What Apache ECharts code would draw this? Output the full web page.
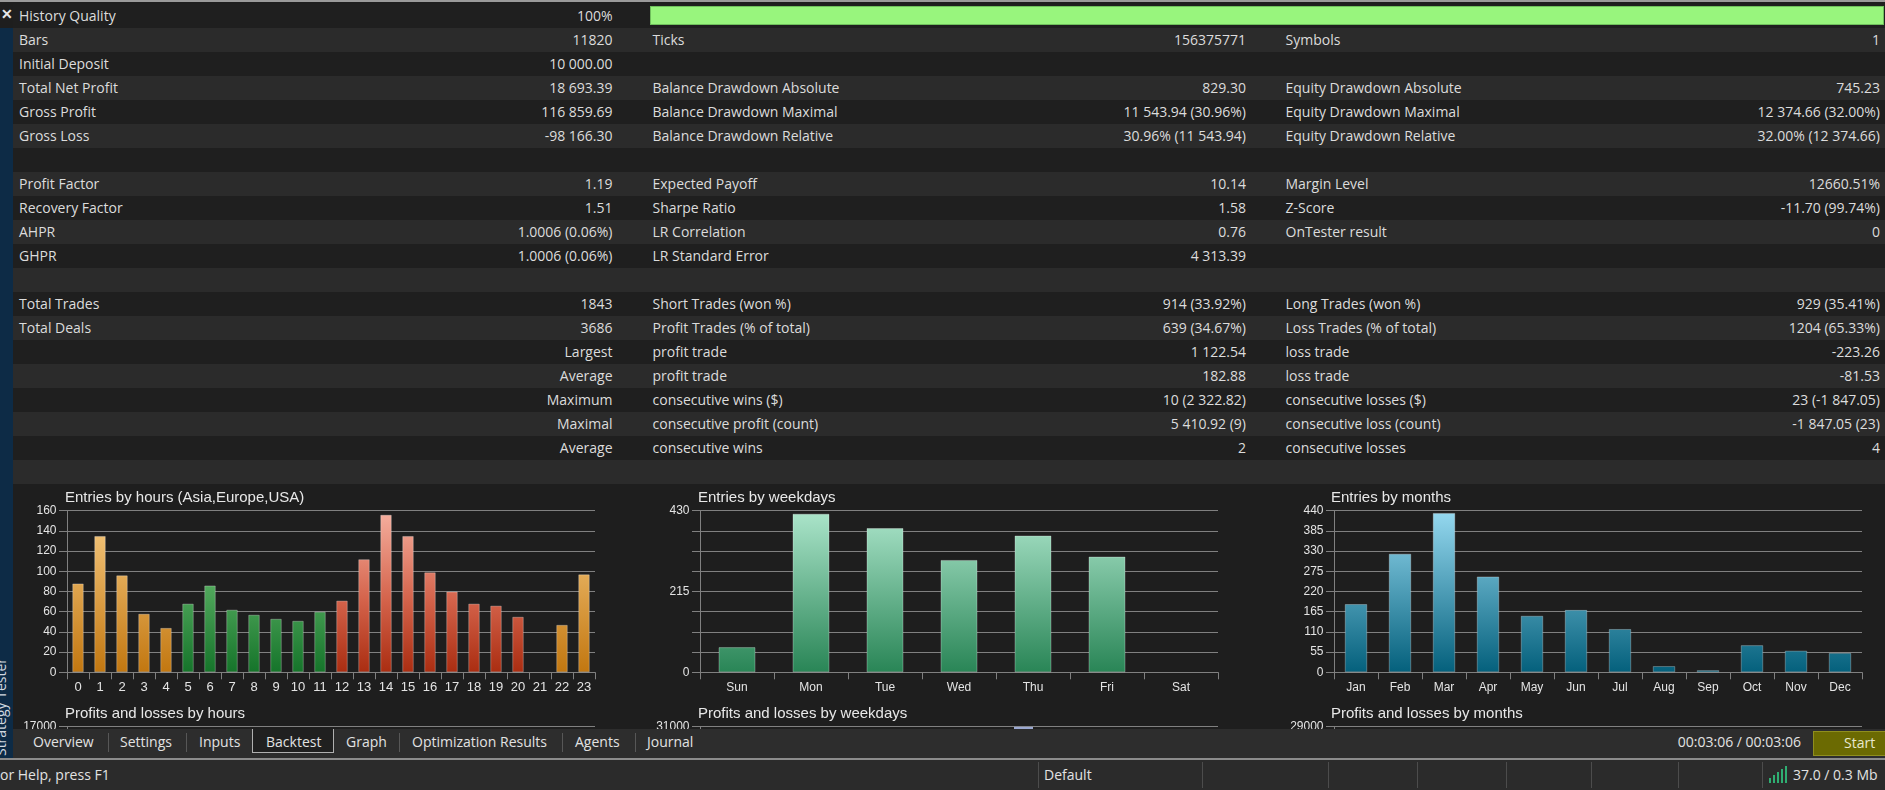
<!DOCTYPE html>
<html>
<head>
<meta charset="utf-8">
<script src="https://cdn.jsdelivr.net/npm/echarts@6/dist/echarts.min.js"></script>
<style>
  html, body { margin:0; padding:0; background:#1e1e1e; width:1885px; height:790px; overflow:hidden; }
  body { position:relative; font-family:"Open Sans", "Noto Sans", sans-serif; font-size:14px; color:#dcdcdc; }
  .abs { position:absolute; white-space:nowrap; }
  .row { position:absolute; left:0; width:1885px; height:24px; line-height:24px; }
  .row span { position:absolute; top:0; white-space:nowrap; }
  .sep { position:absolute; width:1px; background:#575757; }
  #chart { position:absolute; left:0; top:484px; width:1885px; height:246px; }
</style>
</head>
<body>
<div id="rows"></div>
<div id="chart"></div>
<div id="chrome"></div>
<script>
// ---------- table text ----------
const statsRows = [
  ["History Quality", "100%", "", "", "", ""],
  ["Bars", "11820", "Ticks", "156375771", "Symbols", "1"],
  ["Initial Deposit", "10 000.00", "", "", "", ""],
  ["Total Net Profit", "18 693.39", "Balance Drawdown Absolute", "829.30", "Equity Drawdown Absolute", "745.23"],
  ["Gross Profit", "116 859.69", "Balance Drawdown Maximal", "11 543.94 (30.96%)", "Equity Drawdown Maximal", "12 374.66 (32.00%)"],
  ["Gross Loss", "-98 166.30", "Balance Drawdown Relative", "30.96% (11 543.94)", "Equity Drawdown Relative", "32.00% (12 374.66)"],
  ["", "", "", "", "", ""],
  ["Profit Factor", "1.19", "Expected Payoff", "10.14", "Margin Level", "12660.51%"],
  ["Recovery Factor", "1.51", "Sharpe Ratio", "1.58", "Z-Score", "-11.70 (99.74%)"],
  ["AHPR", "1.0006 (0.06%)", "LR Correlation", "0.76", "OnTester result", "0"],
  ["GHPR", "1.0006 (0.06%)", "LR Standard Error", "4 313.39", "", ""],
  ["", "", "", "", "", ""],
  ["Total Trades", "1843", "Short Trades (won %)", "914 (33.92%)", "Long Trades (won %)", "929 (35.41%)"],
  ["Total Deals", "3686", "Profit Trades (% of total)", "639 (34.67%)", "Loss Trades (% of total)", "1204 (65.33%)"],
  ["", "Largest", "profit trade", "1 122.54", "loss trade", "-223.26"],
  ["", "Average", "profit trade", "182.88", "loss trade", "-81.53"],
  ["", "Maximum", "consecutive wins ($)", "10 (2 322.82)", "consecutive losses ($)", "23 (-1 847.05)"],
  ["", "Maximal", "consecutive profit (count)", "5 410.92 (9)", "consecutive loss (count)", "-1 847.05 (23)"],
  ["", "Average", "consecutive wins", "2", "consecutive losses", "4"],
  ["", "", "", "", "", ""]
];

// ---------- chart data ----------
const hours = ["0","1","2","3","4","5","6","7","8","9","10","11","12","13","14","15","16","17","18","19","20","21","22","23"];
const hourEntries = [88,135,96,58,44,68,86,62,57,53,51,60,71,112,156,135,99,80,68,66,55,0,47,97];
const hourSession = ["asia","asia","asia","asia","asia","europe","europe","europe","europe","europe","europe","europe",
                     "usa","usa","usa","usa","usa","usa","usa","usa","usa","usa","asia","asia"];
const weekdays = ["Sun","Mon","Tue","Wed","Thu","Fri","Sat"];
const weekdayEntries = [67,422,384,299,364,308,0];
const months = ["Jan","Feb","Mar","Apr","May","Jun","Jul","Aug","Sep","Oct","Nov","Dec"];
const monthEntries = [186,323,434,261,154,170,118,17,6,74,59,53];
// second row (mostly hidden below the tab bar): only the Thu profit bar top is visible
const weekdayProfitVisible = [null,null,null,null,30900,null,null];
const weekdayLossVisible = [null,null,null,null,null,null,null];
const hourProfitVisible = hours.map(() => null);
const monthProfitVisible = months.map(() => null);

// ---------- build table ----------
(function(){
  const rows = document.getElementById('rows');
  statsRows.forEach((r, i) => {
    const d = document.createElement('div');
    d.className = 'row';
    d.style.top = (4 + 24 * i) + 'px';
    d.style.background = (i % 2 === 0) ? '#1f1f1f' : '#2b2b2b';
    const parts = [
      [r[0], 'left', 19], [r[1], 'right', 1885 - 612.5],
      [r[2], 'left', 652.5], [r[3], 'right', 1885 - 1246],
      [r[4], 'left', 1285.5], [r[5], 'right', 1885 - 1880]
    ];
    parts.forEach(p => {
      if (!p[0]) return;
      const s = document.createElement('span');
      s.textContent = p[0];
      s.style[p[1]] = p[2] + 'px';
      d.appendChild(s);
    });
    if (i === 0) {
      const g = document.createElement('div');
      g.style.cssText = 'position:absolute;left:650px;top:2px;width:1232px;height:17px;background:#98f57d;border:1px solid #6fbf5c;';
      d.appendChild(g);
    }
    rows.appendChild(d);
  });
})();

// ---------- window chrome ----------
(function(){
  const c = document.getElementById('chrome');
  let h = '';
  h += '<div class="abs" style="left:0;top:0;width:1885px;height:2px;background:#9a9a9a;"></div>';
  // left strip
  h += '<div class="abs" style="left:0;top:2px;width:13px;height:26px;background:#1e1e1e;z-index:5;"></div>';
  h += '<div class="abs" style="left:1px;top:5px;font-size:14px;font-weight:bold;color:#e8e8e8;z-index:6;line-height:18px;">&#x2715;</div>';
  h += '<div class="abs" style="left:0;top:28px;width:13px;height:730px;background:#0d2b46;z-index:5;overflow:hidden;">' +
       '<div class="abs" style="left:-49px;top:672px;width:100px;text-align:center;transform:rotate(-90deg);font-size:14px;color:#d0d8e0;line-height:14px;">Strategy Tester</div></div>';
  // tab bar
  h += '<div class="abs" style="left:13px;top:729px;width:1872px;height:30px;background:#2d2d2d;z-index:4;"></div>';
  h += '<div class="abs" style="left:252px;top:729px;width:80px;height:23px;background:#202020;border:1px solid #b0b0b0;border-top:none;z-index:4;"></div>';
  const tabs = [["Overview",33],["Settings",120],["Inputs",199],["Backtest",266],["Graph",346],["Optimization Results",412],["Agents",575],["Journal",647]];
  tabs.forEach(t => { h += '<div class="abs" style="left:' + t[1] + 'px;top:731px;line-height:22px;color:#e2e2e2;z-index:4;">' + t[0] + '</div>'; });
  [107.5,186,399,562,634.5].forEach(x => { h += '<div class="sep" style="left:' + x + 'px;top:733px;height:19px;z-index:4;"></div>'; });
  h += '<div class="abs" style="right:84px;top:731px;line-height:22px;color:#e2e2e2;z-index:4;">00:03:06 / 00:03:06</div>';
  h += '<div class="abs" style="left:1813px;top:731px;width:72px;height:23px;background:#6b6a02;border:1px solid #8f8e1e;border-right:none;z-index:4;"></div>';
  h += '<div class="abs" style="left:1844px;top:731px;line-height:24px;color:#e8e8d0;z-index:4;">Start</div>';
  // separator line and status bar
  h += '<div class="abs" style="left:0;top:758px;width:1885px;height:2px;background:#8c8c8c;z-index:4;"></div>';
  h += '<div class="abs" style="left:0;top:760px;width:1885px;height:30px;background:#2b2b2b;z-index:4;"></div>';
  h += '<div class="abs" style="left:0;top:763px;line-height:24px;color:#e2e2e2;z-index:4;">or Help, press F1</div>';
  h += '<div class="abs" style="left:1044px;top:763px;line-height:24px;color:#e2e2e2;z-index:4;">Default</div>';
  [1038,1202,1328,1417,1506,1591,1678,1762].forEach(x => { h += '<div class="sep" style="left:' + x + 'px;top:762px;height:26px;background:#4c4c4c;z-index:4;"></div>'; });
  [[1769,5],[1773,8],[1777,11],[1781,14],[1785,17]].forEach(b => {
    h += '<div class="abs" style="left:' + b[0] + 'px;top:' + (783 - b[1]) + 'px;width:2px;height:' + b[1] + 'px;background:#2fae72;z-index:4;"></div>';
  });
  h += '<div class="abs" style="left:1793px;top:763px;line-height:24px;color:#e2e2e2;z-index:4;">37.0 / 0.3 Mb</div>';
  c.innerHTML = h;
})();

// ---------- charts ----------
const chart = echarts.init(document.getElementById('chart'), null, {renderer: 'canvas'});
const TOP1 = 26.7, H = 161.6, TOP2 = 242.7;
const G = (stops) => new echarts.graphic.LinearGradient(0, TOP1, 0, TOP1 + H, stops, true);
const sessionGrad = {
  asia:   G([{offset:0,color:'#f8cc84'},{offset:1,color:'#c27710'}]),
  europe: G([{offset:0,color:'#86d588'},{offset:1,color:'#15742a'}]),
  usa:    G([{offset:0,color:'#f6b0a0'},{offset:0.55,color:'#d4634b'},{offset:1,color:'#aa2d11'}])
};
const weekdayGrad = G([{offset:0,color:'#ace5cb'},{offset:1,color:'#298556'}]);
const monthGrad = G([{offset:0,color:'#96d9f0'},{offset:1,color:'#04607c'}]);
const border = 'rgba(255,255,255,0.28)';

const gridDefs = [
  {left:67, top:TOP1, width:528, height:H},
  {left:700, top:TOP1, width:518, height:H},
  {left:1334, top:TOP1, width:528, height:H},
  {left:67, top:TOP2, width:528, height:H},
  {left:700, top:TOP2, width:518, height:H},
  {left:1334, top:TOP2, width:528, height:H}
];
const lineCol = '#808080';
function xAx(i, data, fs) {
  return {
    type:'category', gridIndex:i, data:data, boundaryGap:true,
    axisLine:{show:true, lineStyle:{color:lineCol, width:1}},
    axisTick:{show:true, interval:0, length:7, lineStyle:{color:lineCol}},
    axisLabel:{interval:0, color:'#e4e4e4', fontSize:fs, fontFamily:'Liberation Sans, Arial', margin:9},
    splitLine:{show:false}
  };
}
function yAx(i, max, interval, fmt) {
  return {
    type:'value', gridIndex:i, min:0, max:max, interval:interval,
    axisLine:{show:true, lineStyle:{color:lineCol, width:1}},
    axisTick:{show:true, length:8, lineStyle:{color:lineCol}},
    axisLabel:{color:'#e4e4e4', fontSize:12, fontFamily:'Liberation Sans, Arial', margin:10.5, formatter:fmt},
    splitLine:{show:true, lineStyle:{color:lineCol, width:1}}
  };
}
const titleStyle = {fontSize:15, fontFamily:'Liberation Sans, Arial', color:'#e8e8e8', fontWeight:'normal'};
const titles = [
  ["Entries by hours (Asia,Europe,USA)", 65, TOP1 - 20.5],
  ["Entries by weekdays", 698, TOP1 - 20.5],
  ["Entries by months", 1331, TOP1 - 20.5],
  ["Profits and losses by hours", 65, TOP2 - 20.5],
  ["Profits and losses by weekdays", 698, TOP2 - 20.5],
  ["Profits and losses by months", 1331, TOP2 - 20.5]
];

const option = {
  backgroundColor:'#1e1e1e',
  animation:false,
  title: titles.map(t => ({text:t[0], left:t[1], top:t[2], padding:0, textStyle:titleStyle})),
  grid: gridDefs,
  xAxis: [
    xAx(0, hours, 13), xAx(1, weekdays, 12), xAx(2, months, 12),
    xAx(3, hours, 13), xAx(4, weekdays, 12), xAx(5, months, 12)
  ],
  yAxis: [
    yAx(0, 160, 20),
    yAx(1, 430, 53.75, v => (v === 0 || v === 215 || v === 430) ? String(v) : ''),
    yAx(2, 440, 55),
    yAx(3, 17000, 2125, v => v === 17000 ? '17000' : ''),
    yAx(4, 31000, 3875, v => v === 31000 ? '31000' : ''),
    yAx(5, 29000, 3625, v => v === 29000 ? '29000' : '')
  ],
  series: [
    {type:'bar', xAxisIndex:0, yAxisIndex:0, barWidth:11.5,
     data: hourEntries.map((v, i) => ({value:v, itemStyle:{color:sessionGrad[hourSession[i]], borderColor:border, borderWidth: v ? 1 : 0}}))},
    {type:'bar', xAxisIndex:1, yAxisIndex:1, barWidth:37,
     data: weekdayEntries.map(v => ({value:v, itemStyle:{color:weekdayGrad, borderColor:border, borderWidth: v ? 1 : 0}}))},
    {type:'bar', xAxisIndex:2, yAxisIndex:2, barWidth:22.5,
     data: monthEntries.map(v => ({value:v, itemStyle:{color:monthGrad, borderColor:border, borderWidth: v ? 1 : 0}}))},
    {type:'bar', xAxisIndex:3, yAxisIndex:3, data: hourProfitVisible},
    {type:'bar', xAxisIndex:4, yAxisIndex:4, barWidth:19, barGap:'0%', data: weekdayProfitVisible, itemStyle:{color:'#9aa8d0'}},
    {type:'bar', xAxisIndex:4, yAxisIndex:4, barWidth:19, barGap:'0%', data: weekdayLossVisible, itemStyle:{color:'#c05050'}},
    {type:'bar', xAxisIndex:5, yAxisIndex:5, data: monthProfitVisible}
  ]
};
chart.setOption(option);
</script>
</body>
</html>
